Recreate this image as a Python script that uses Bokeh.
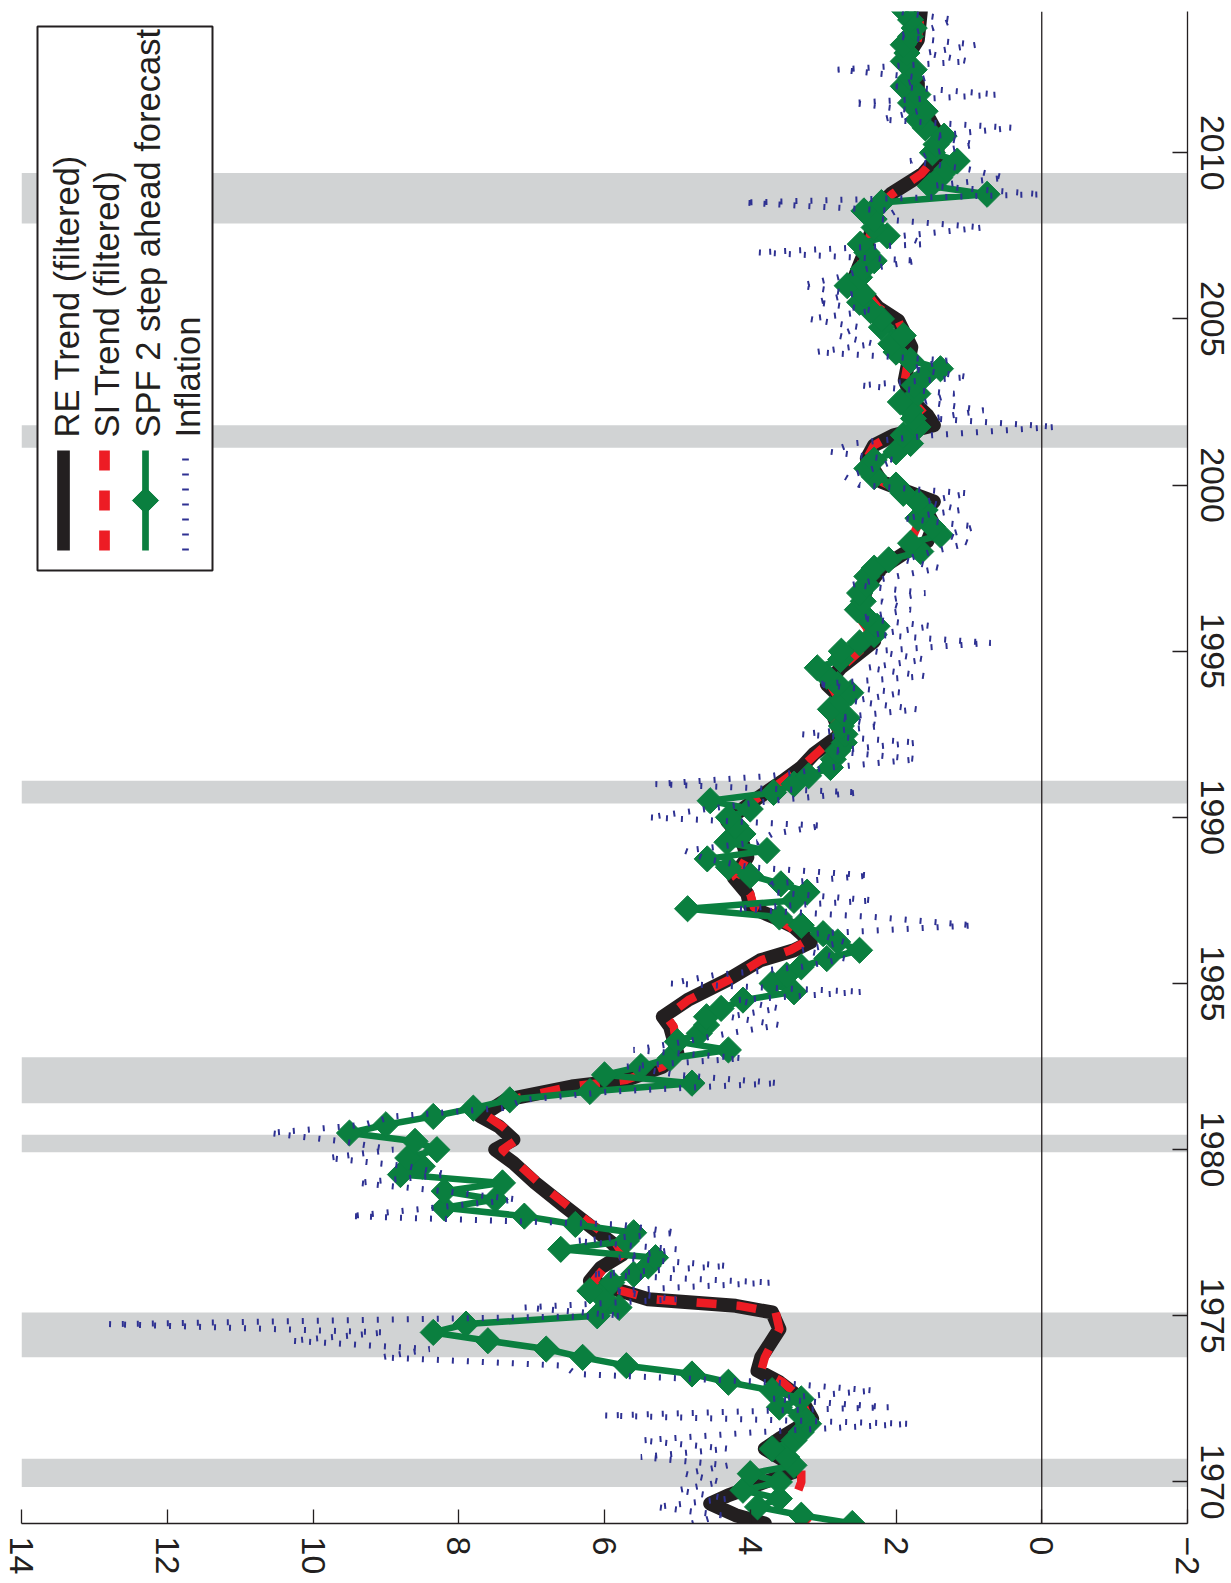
import numpy as np
from bokeh.plotting import figure
from bokeh.models import Range1d, FixedTicker, BoxAnnotation, Span
from bokeh.core.properties import value
from bokeh.embed import file_html
from bokeh.resources import INLINE

# ---------------------------------------------------------------------------
# Data (quarterly, 1968Q4 .. 2014Q2)
# ---------------------------------------------------------------------------
quarters = [1968.75 + 0.25 * i for i in range(183)]

spf_forecast = [
    2.6,
    3.3, 3.9, 3.6, 4.1,      # 1969
    3.6, 4.0, 3.4, 3.5,      # 1970
    3.7, 3.4, 3.3, 3.2,      # 1971
    3.3, 3.6, 3.3, 3.7,      # 1972
    4.3, 4.8, 5.7, 6.3,      # 1973
    6.8, 7.6, 8.35, 7.9,     # 1974
    6.1, 5.8, 6.0, 6.2,      # 1975
    5.9, 5.6, 5.4, 5.3,      # 1976
    6.6, 5.7, 5.6, 6.4,      # 1977
    7.1, 8.2, 7.5, 8.2,      # 1978
    7.4, 8.8, 8.5, 8.7,      # 1979
    8.3, 8.6, 9.5, 9.0,      # 1980
    8.35, 7.8, 7.3, 6.2,     # 1981
    4.8, 6.0, 5.5, 5.1,      # 1982
    4.3, 5.0, 4.7, 4.6,      # 1983
    4.6, 4.4, 4.1, 3.4,      # 1984
    3.7, 3.5, 3.3, 2.95,     # 1985
    2.5, 2.8, 3.0, 3.3,      # 1986
    3.6, 4.86, 3.4, 3.22,    # 1987
    3.58, 4.0, 4.3, 4.59,    # 1988
    3.77, 4.32, 4.1, 4.2,    # 1989
    4.3, 4.0, 4.55, 3.68,    # 1990
    3.4, 3.2, 2.9, 2.86,     # 1991
    2.8, 2.71, 2.7, 2.75,    # 1992
    2.67, 2.9, 2.75, 2.62,   # 1993
    2.8, 2.95, 3.08, 2.76,   # 1994
    2.75, 2.5, 2.3, 2.26,    # 1995
    2.4, 2.53, 2.45, 2.5,    # 1996
    2.4, 2.4, 2.3, 2.1,      # 1997
    1.66, 1.8, 1.39, 1.5,    # 1998
    1.7, 1.6, 1.7, 1.9,      # 1999
    2.0, 2.3, 2.4, 2.3,      # 2000
    2.0, 1.8, 1.9, 1.7,      # 2001
    1.76, 1.8, 1.94, 1.7,    # 2002
    1.75, 1.62, 1.39, 1.8,   # 2003
    2.0, 2.07, 1.9, 2.2,     # 2004
    2.2, 2.35, 2.5, 2.45,    # 2005
    2.67, 2.5, 2.45, 2.3,    # 2006
    2.4, 2.49, 2.12, 2.3,    # 2007
    2.3, 2.44, 2.2, 0.75,    # 2008
    1.53, 1.4, 1.3, 1.16,    # 2009
    1.5, 1.45, 1.34, 1.6,    # 2010
    1.7, 1.6, 1.8, 1.7,      # 2011
    1.9, 1.8, 1.75, 1.9,     # 2012
    1.85, 1.9, 1.8, 1.75,    # 2013
    1.8, 1.88,               # 2014
]

inflation = [
    4.8,
    4.4, 5.3, 4.3, 5.0,      # 1969
    4.4, 4.9, 4.3, 5.5,      # 1970
    4.3, 5.5, 3.9, 1.8,      # 1971
    6.0, 2.1, 3.7, 2.3,      # 1972
    3.7, 6.4, 6.55, 9.06,    # 1973
    8.4, 10.3, 9.0, 12.8,    # 1974
    5.75, 7.1, 5.0, 5.9,     # 1975
    3.7, 6.2, 4.3, 5.8,      # 1976
    5.0, 6.4, 5.0, 5.8,      # 1977
    9.5, 8.35, 7.2, 8.2,     # 1978
    9.4, 8.15, 8.7, 9.8,     # 1979
    8.9, 9.6, 10.6, 9.3,     # 1980
    8.9, 7.4, 7.1, 5.9,      # 1981
    3.6, 5.0, 5.7, 4.1,      # 1982
    5.6, 4.9, 4.3, 3.6,      # 1983
    4.3, 3.6, 4.2, 2.45,     # 1984
    5.1, 4.5, 3.3, 2.7,      # 1985
    3.3, 2.7, 3.1, 0.93,     # 1986
    2.3, 4.2, 2.3, 3.7,      # 1987
    3.7, 2.35, 4.0, 4.6,     # 1988
    4.9, 3.9, 3.7, 3.0,      # 1989
    5.4, 4.6, 3.7, 2.5,      # 1990
    5.3, 3.7, 2.9, 1.7,      # 1991
    2.9, 1.7, 3.3, 2.2,      # 1992
    2.8, 1.7, 2.6, 1.9,      # 1993
    3.1, 1.6, 2.4, 1.6,      # 1994
    2.3, 0.7, 2.3, 1.5,      # 1995
    2.5, 1.8, 2.2, 1.6,      # 1996
    2.6, 2.0, 1.4, 1.9,      # 1997
    1.5, 1.0, 1.3, 0.9,      # 1998
    1.9, 1.1, 1.6, 1.0,      # 1999
    2.5, 2.7, 2.3, 2.0,      # 2000
    2.9, 2.6, 1.5, -0.2,     # 2001
    1.5, 0.8, 1.6, 1.2,      # 2002
    2.5, 1.0, 1.8, 1.3,      # 2003
    3.1, 2.3, 2.8, 2.5,      # 2004
    3.2, 2.3, 3.1, 2.6,      # 2005
    3.3, 2.8, 2.4, 1.7,      # 2006
    3.9, 1.6, 1.9, 0.8,      # 2007
    2.2, 2.0, 4.1, 0.0,      # 2008
    1.5, 0.5, 1.0, 1.8,      # 2009
    1.5, 0.9, 1.5, 0.4,      # 2010
    2.2, 1.7, 2.6, 0.6,      # 2011
    2.0, 1.6, 2.8, 1.0,      # 2012
    1.6, 0.9, 2.0, 1.5,      # 2013
    1.2, 2.0,                # 2014
]

# Filtered trend estimates (dates in fractional years)
re_years = [
    1968.75, 1969.0, 1969.35, 1969.6, 1970.0, 1970.3, 1970.6, 1971.0, 1971.3,
    1971.9, 1972.5, 1973.0, 1973.35, 1973.75, 1974.6, 1975.1, 1975.3, 1975.5,
    1975.8, 1976.05, 1976.45, 1976.85, 1977.2, 1978.3, 1979.0, 1979.6, 1980.0,
    1980.3, 1980.7, 1981.0, 1981.5, 1981.9, 1982.1, 1982.5, 1982.9, 1983.7,
    1984.0, 1984.5, 1985.1, 1985.7, 1986.0, 1986.25, 1986.7, 1987.0, 1987.3,
    1987.7, 1988.2, 1988.8, 1989.4, 1989.9, 1990.5, 1991.1, 1991.5, 1991.9,
    1992.5, 1993.0, 1993.6, 1994.0, 1994.5, 1995.3, 1995.7, 1996.3, 1996.9,
    1997.5, 1998.0, 1998.3, 1998.8, 1999.3, 1999.5, 1999.8, 2000.1, 2000.8,
    2001.2, 2001.5, 2001.8, 2002.1, 2002.5, 2003.15, 2004.15, 2004.95, 2005.35,
    2006.2, 2006.96, 2007.56, 2008.36, 2008.76, 2009.37, 2009.87, 2010.57,
    2010.97, 2011.6, 2012.1, 2012.7, 2013.4, 2014.25,
]
re_trend = [
    3.8, 4.2, 4.55, 4.3, 3.8, 3.4, 3.5, 3.8, 3.6,
    3.15, 3.3, 3.6, 3.9, 3.85, 3.6, 3.7, 4.2, 5.4,
    5.85, 6.2, 6.05, 5.75, 5.9, 6.55, 6.95, 7.25, 7.5,
    7.25, 7.45, 7.7, 7.35, 6.45, 5.7, 5.2, 5.0, 5.1,
    5.2, 4.86, 4.32, 3.86, 3.4, 3.17, 3.4, 3.68, 4.0,
    4.04, 4.23, 4.04, 4.13, 4.32, 3.95, 3.55, 3.3, 3.13,
    2.76, 2.85, 2.76, 2.95, 2.76, 2.3, 2.35, 2.49, 2.4,
    2.2, 1.85, 1.57, 1.48, 1.6, 1.48, 1.85, 2.2, 2.4,
    2.3, 2.03, 1.48, 1.57, 1.76, 1.88, 1.79, 1.97, 2.25,
    2.58, 2.44, 2.35, 2.26, 2.07, 1.63, 1.43, 1.43,
    1.53, 1.7, 1.7, 1.9, 1.7, 1.66,
]

si_years = [
    1968.75, 1969.2, 1969.7, 1970.0, 1970.4, 1970.9, 1971.3, 1971.7, 1971.9,
    1972.5, 1973.0, 1973.35, 1973.75, 1974.6, 1975.1, 1975.3, 1975.5, 1975.8,
    1976.05, 1976.45, 1976.85, 1977.2, 1978.3, 1979.0, 1979.6, 1980.0, 1980.3,
    1980.7, 1981.0, 1981.5, 1981.9, 1982.1, 1982.5, 1982.9, 1983.7, 1984.0,
    1984.5, 1985.1, 1985.7, 1986.0, 1986.25, 1986.7, 1987.0, 1987.3, 1987.7,
    1988.2, 1988.8, 1989.4, 1989.9, 1990.5, 1991.1, 1991.5, 1991.9, 1992.5,
    1993.0, 1993.6, 1994.0, 1994.5, 1995.3, 1995.7, 1996.3, 1996.9, 1997.5,
    1998.0, 1998.3, 1998.8, 1999.3, 1999.5, 1999.8, 2000.1, 2000.8, 2001.2,
    2001.5, 2001.8, 2002.1, 2002.5, 2003.15, 2004.15, 2004.95, 2005.35, 2006.2,
    2006.96, 2007.56, 2008.36, 2008.76, 2009.37, 2009.87, 2010.57, 2010.97,
    2011.6, 2012.1, 2012.7, 2013.4, 2014.25,
]
si_trend = [
    3.2, 3.4, 3.35, 3.3, 3.3, 3.5, 3.45, 3.2, 3.2,
    3.3, 3.55, 3.85, 3.8, 3.6, 3.65, 4.15, 5.35, 5.85,
    6.15, 6.0, 5.75, 5.85, 6.5, 6.9, 7.2, 7.4, 7.2,
    7.4, 7.6, 7.3, 6.45, 5.7, 5.2, 5.0, 5.05, 5.15,
    4.85, 4.3, 3.85, 3.45, 3.25, 3.45, 3.7, 3.95, 4.0,
    4.2, 4.05, 4.1, 4.25, 3.95, 3.55, 3.3, 3.1, 2.8,
    2.85, 2.8, 2.9, 2.75, 2.35, 2.4, 2.6, 2.5, 2.3,
    2.0, 1.8, 1.7, 1.8, 1.7, 1.9, 2.2, 2.4, 2.3,
    2.05, 1.6, 1.6, 1.76, 1.88, 1.8, 1.97, 2.25, 2.55,
    2.44, 2.35, 2.25, 2.05, 1.65, 1.45, 1.45, 1.55,
    1.7, 1.7, 1.85, 1.7, 1.66,
]

# Recession periods (start, end)
recession_start = [1969.85, 1973.75, 1979.92, 1981.4, 1990.42, 2001.12, 2007.87]
recession_end = [1970.7, 1975.1, 1980.45, 1982.78, 1991.1, 2001.8, 2009.39]

value_ticks = [14, 12, 10, 8, 6, 4, 2, 0, -2]
year_ticks = [1970, 1975, 1980, 1985, 1990, 1995, 2000, 2005, 2010]
legend_labels = ["RE Trend (filtered)", "SI Trend (filtered)",
                 "SPF 2 step ahead forecast", "Inflation"]

# ---------------------------------------------------------------------------
# Styling
# ---------------------------------------------------------------------------
FONT = "Liberation Sans"
BLACK = "#231f20"
RED = "#ed1c24"
GREEN = "#0a7f3f"
BLUE = "#2e3192"
GRAY = "#d1d3d4"

V_HI, V_LO = 14, -2
T_LO, T_HI = 1968.75, 2014.25
FW, FH = 1166, 1512
LEFT_PAD, TOP_PAD, RIGHT_PAD, BOTTOM_PAD = 21, 11, 44, 60

p = figure(frame_width=FW, frame_height=FH,
           x_range=Range1d(V_HI, V_LO), y_range=Range1d(T_LO, T_HI),
           x_axis_location="below", y_axis_location="right",
           output_backend="svg", toolbar_location=None,
           min_border_left=LEFT_PAD, min_border_top=TOP_PAD,
           min_border_right=RIGHT_PAD, min_border_bottom=BOTTOM_PAD)
p.outline_line_color = None
p.grid.visible = False
p.background_fill_color = "white"
p.border_fill_color = "white"

for ax in (p.xaxis[0], p.yaxis[0]):
    ax.axis_line_color = BLACK
    ax.axis_line_width = 1.3
    ax.major_tick_line_color = BLACK
    ax.major_tick_line_width = 1.3
    ax.major_tick_out = 0
    ax.minor_tick_line_color = None
    ax.major_label_text_font = FONT
    ax.major_label_text_color = BLACK
    ax.major_label_orientation = "vertical"

p.xaxis.ticker = FixedTicker(ticks=value_ticks)
p.xaxis.major_label_overrides = {-2: "\u22122"}
p.xaxis.major_tick_in = 14
p.xaxis.major_label_standoff = 13
p.xaxis.major_label_text_font_size = "34px"
p.yaxis.ticker = FixedTicker(ticks=year_ticks)
p.yaxis.major_tick_in = 15
p.yaxis.major_label_standoff = 13
p.yaxis.major_label_text_font_size = "34px"

# Recession shading and zero line
for s, e in zip(recession_start, recession_end):
    p.add_layout(BoxAnnotation(bottom=s, top=e, fill_color=GRAY, fill_alpha=1.0,
                               line_color=None, level="underlay"))
p.add_layout(Span(location=0, dimension="height", line_color=BLACK,
                  line_width=1.3, level="underlay"))

# Series
p.line(re_trend, re_years, line_color=BLACK, line_width=14,
       line_join="round", line_cap="round")
p.line(si_trend, si_years, line_color=RED, line_width=8.5,
       line_dash="20 20", line_join="round")
p.line(spf_forecast, quarters, line_color=GREEN, line_width=6.5, line_join="round")
p.scatter(spf_forecast, quarters, marker="square", angle=np.pi / 4, size=18.5,
          fill_color=GREEN, line_color=GREEN)
p.line(inflation, quarters, line_color=BLUE, line_width=6, line_dash="2 13")

# ---------------------------------------------------------------------------
# Legend (drawn rotated, positioned in pixel offsets from the frame corner)
# ---------------------------------------------------------------------------
def vx(px):
    return V_HI - (px - LEFT_PAD) * (V_HI - V_LO) / FW


def ty(py):
    return T_HI - (py - TOP_PAD) * (T_HI - T_LO) / FH


p.quad(left=[vx(37)], right=[vx(212)], top=[ty(26)], bottom=[ty(570)],
       fill_color="white", line_color=BLACK, line_width=2)

sample_lo, sample_hi = ty(550), ty(450)
p.line([vx(63)] * 2, [sample_lo, sample_hi], line_color=BLACK, line_width=12.7)
p.line([vx(104)] * 2, [sample_lo, sample_hi], line_color=RED, line_width=10.7,
       line_dash="20 20")
p.line([vx(145)] * 2, [sample_lo, sample_hi], line_color=GREEN, line_width=6.7)
p.scatter([vx(145)], [ty(500)], marker="square", angle=np.pi / 4, size=18.5,
          fill_color=GREEN, line_color=GREEN)
p.line([vx(185)] * 2, [sample_lo, sample_hi], line_color=BLUE, line_width=6.7,
       line_dash="2 13")

label_cols = [66, 106, 147, 187.5]
p.text(x=[vx(c) for c in label_cols], y=[ty(437)] * 4, text=legend_labels,
       angle=np.pi / 2, text_font=value(FONT), text_font_size="34.5px",
       text_align="left", text_baseline="middle", text_color=BLACK)

open("out.html", "w").write(file_html(p, INLINE))
